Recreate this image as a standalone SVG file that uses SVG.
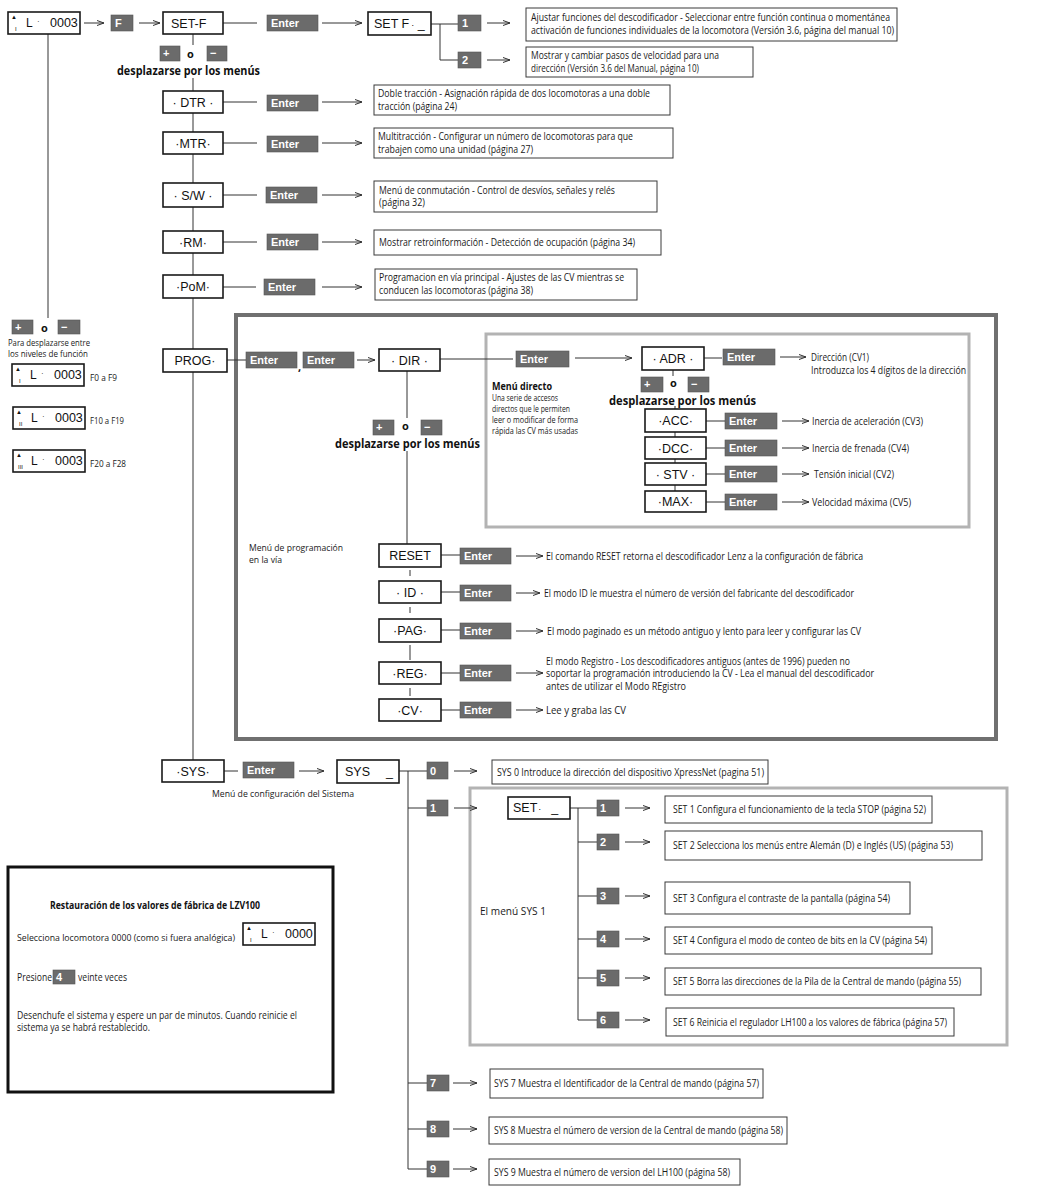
<svg xmlns="http://www.w3.org/2000/svg" width="1046" height="1200" viewBox="0 0 1046 1200">
<defs>
<style>
.tb{fill:#fff;stroke:#3a3a3a;stroke-width:1}
.nb{fill:#fff;stroke:#1a1a1a;stroke-width:1.6}
.k{fill:#6b6b6b;stroke:#555;stroke-width:0.6}
.kt{font-family:"Liberation Sans",Arial,sans-serif;font-weight:bold;font-size:11px;fill:#fff}
.d{font-family:"Open Sans","Noto Sans",sans-serif;font-size:10px;fill:#1a1a1a}
.s{font-family:"Open Sans","Noto Sans",sans-serif;font-size:8.5px;fill:#1a1a1a}
.n{font-family:"Liberation Sans",Arial,sans-serif;font-size:12.5px;fill:#111;text-anchor:middle}
.nl{font-family:"Liberation Sans",Arial,sans-serif;font-size:12.5px;fill:#111}
.b{font-family:"Open Sans","Noto Sans",sans-serif;font-weight:bold;font-size:12.5px;fill:#111}
.bs{font-family:"Open Sans","Noto Sans",sans-serif;font-weight:bold;font-size:10px;fill:#111}
.o{font-family:"Open Sans","Noto Sans",sans-serif;font-weight:bold;font-size:11px;fill:#111}
.ln{stroke:#333;stroke-width:1;fill:none}
.ar{stroke:#333;stroke-width:1;fill:none;marker-end:url(#ah)}
.dt{font-family:"Liberation Sans",Arial,sans-serif;fill:#111}
.frame1{fill:none;stroke:#707070;stroke-width:4}
.frame2{fill:none;stroke:#b3b3b3;stroke-width:3}
.frame3{fill:none;stroke:#111;stroke-width:3}
</style>
<marker id="ah" viewBox="0 0 8 8" refX="7.5" refY="4" markerWidth="8" markerHeight="8" markerUnits="userSpaceOnUse" orient="auto">
<path d="M0.5,1.5 L7.5,4 L0.5,6.5" fill="none" stroke="#333" stroke-width="1"/>
</marker>
</defs>
<rect width="1046" height="1200" fill="#fff"/>

<g id="frames">
<rect class="frame1" x="236" y="315" width="760" height="424"/>
<rect class="frame2" x="486" y="334" width="483" height="193"/>
<rect class="frame2" x="470" y="788" width="537" height="257"/>
<rect class="frame3" x="8" y="867" width="325" height="225"/>
</g>

<g id="connectors">
<path class="ar" d="M84,23 H104"/>
<path class="ar" d="M139,23 H160"/>
<path class="ln" d="M223,23 H257"/>
<path class="ar" d="M322,23 H362"/>
<path class="ln" d="M431,24 H458 M440,24 V60 H458"/>
<path class="ar" d="M487,23 H510"/>
<path class="ar" d="M487,60 H510"/>
<path class="ln" d="M193,34 V45 M193,78 V91 M193,113 V132 M193,154 V183 M193,207 V231 M193,253 V275 M193,298 V349 M193,372 V760"/>
<path class="ln" d="M223,102 H257"/><path class="ar" d="M322,102 H362"/>
<path class="ln" d="M223,143 H257"/><path class="ar" d="M322,143 H362"/>
<path class="ln" d="M223,195 H257"/><path class="ar" d="M322,195 H362"/>
<path class="ln" d="M223,242 H257"/><path class="ar" d="M322,242 H362"/>
<path class="ln" d="M223,287 H256"/><path class="ar" d="M322,287 H362"/>
<path class="ln" d="M48,34 V318"/>
<path class="ln" d="M227,360 H246"/>
<path class="ar" d="M357,360 H375"/>
<path class="ln" d="M440,359 H513"/><path class="ar" d="M575,358 H632"/>
<path class="ln" d="M704,358 H722"/><path class="ar" d="M780,357 H806"/>
<path class="ln" d="M673,370 V376 M675,406 V409 M675,432 V437 M675,459 V463 M675,485 V491"/>
<path class="ln" d="M706,421 H725"/><path class="ar" d="M782,421 H809"/>
<path class="ln" d="M706,448 H725"/><path class="ar" d="M782,448 H809"/>
<path class="ln" d="M706,474 H725"/><path class="ar" d="M782,474 H809"/>
<path class="ln" d="M706,502 H725"/><path class="ar" d="M782,502 H809"/>
<path class="ln" d="M407,371 V418 M407,451 V544"/>
<path class="ln" d="M441,555 H460"/><path class="ar" d="M516,556 H543"/>
<path class="ln" d="M410,570 V576 M410,607 V613 M410,645 V660 M410,688 V696"/>
<path class="ln" d="M441,592 H460"/><path class="ar" d="M516,593 H540"/>
<path class="ln" d="M441,630 H460"/><path class="ar" d="M516,631 H543"/>
<path class="ln" d="M441,673 H460"/><path class="ar" d="M516,673 H543"/>
<path class="ln" d="M441,710 H460"/><path class="ar" d="M516,710 H543"/>
<path class="ln" d="M224,771 H238"/><path class="ar" d="M299,771 H324"/>
<path class="ln" d="M399,771 H427 M408,771 V1169 H427"/>
<path class="ar" d="M454,771 H477"/>
<path class="ln" d="M408,808 H427"/><path class="ar" d="M454,808 H477"/>
<path class="ln" d="M570,808 H597 M578,808 V1020 H597 M578,842 H597 M578,896 H597 M578,939 H597 M578,978 H597"/>
<path class="ar" d="M625,808 H650"/>
<path class="ar" d="M625,842 H650"/>
<path class="ar" d="M625,896 H650"/>
<path class="ar" d="M625,939 H650"/>
<path class="ar" d="M625,978 H650"/>
<path class="ar" d="M625,1020 H650"/>
<path class="ln" d="M408,1083 H427"/><path class="ar" d="M453,1083 H477"/>
<path class="ln" d="M408,1129 H427"/><path class="ar" d="M453,1129 H477"/>
<path class="ar" d="M453,1169 H477"/>
</g>

<g id="display-main" transform="translate(8,12)">
<rect class="nb" width="72" height="22"/>
<text class="dt" x="3" y="7" font-size="6">▲</text><text class="dt" x="7" y="19" font-size="6">I</text>
<text class="dt" x="18" y="14.5" font-size="12">L</text><text class="dt" x="29" y="12" font-size="8">·</text>
<text class="dt" x="42" y="14.5" font-size="12.5">0003</text>
</g>
<g id="display-f0" transform="translate(12,364)">
<rect class="nb" width="72" height="22"/>
<text class="dt" x="3" y="7" font-size="6">▲</text><text class="dt" x="7" y="19" font-size="6">I</text>
<text class="dt" x="18" y="14.5" font-size="12">L</text><text class="dt" x="29" y="12" font-size="8">·</text>
<text class="dt" x="42" y="14.5" font-size="12.5">0003</text>
</g>
<text class="s" x="90" y="381" textLength="27" lengthAdjust="spacingAndGlyphs">F0 a F9</text>
<g id="display-f10" transform="translate(13,407)">
<rect class="nb" width="72" height="22"/>
<text class="dt" x="3" y="7" font-size="6">▲</text><text class="dt" x="6" y="19" font-size="6">II</text>
<text class="dt" x="18" y="14.5" font-size="12">L</text><text class="dt" x="29" y="12" font-size="8">·</text>
<text class="dt" x="42" y="14.5" font-size="12.5">0003</text>
</g>
<text class="s" x="90" y="424" textLength="34" lengthAdjust="spacingAndGlyphs">F10 a F19</text>
<g id="display-f20" transform="translate(13,450)">
<rect class="nb" width="72" height="22"/>
<text class="dt" x="3" y="7" font-size="6">▲</text><text class="dt" x="5" y="19" font-size="6">III</text>
<text class="dt" x="18" y="14.5" font-size="12">L</text><text class="dt" x="29" y="12" font-size="8">·</text>
<text class="dt" x="42" y="14.5" font-size="12.5">0003</text>
</g>
<text class="s" x="90" y="467" textLength="36" lengthAdjust="spacingAndGlyphs">F20 a F28</text>

<g id="left-scroll">
<rect class="k" x="12" y="320" width="21" height="14"/><text class="kt" x="15" y="331">+</text>
<text class="o" x="41" y="332">o</text>
<rect class="k" x="58" y="320" width="22" height="14"/><text class="kt" x="61" y="331">−</text>
<text class="s" x="8" y="346" textLength="82" lengthAdjust="spacingAndGlyphs">Para desplazarse entre</text>
<text class="s" x="8" y="357" textLength="80" lengthAdjust="spacingAndGlyphs">los niveles de función</text>
</g>

<g id="key-f"><rect class="k" x="111" y="15" width="22" height="16"/><text class="kt" x="115" y="27">F</text></g>
<g id="set-f"><rect class="nb" x="163" y="12" width="60" height="22"/><text class="nl" x="171" y="27.5">SET-F</text></g>
<g id="enter-setf"><rect class="k" x="267" y="15" width="51" height="16"/><text class="kt" x="271" y="27">Enter</text></g>
<g id="setf"><rect class="nb" x="368" y="12" width="63" height="23"/><text class="nl" x="374" y="28">SET F<tspan font-size="9" dx="2">·</tspan> _</text></g>
<g id="key-f1"><rect class="k" x="458" y="15" width="23" height="16"/><text class="kt" x="462" y="27">1</text></g>
<g id="key-f2"><rect class="k" x="458" y="52" width="23" height="16"/><text class="kt" x="462" y="64">2</text></g>
<g id="desc-f1"><rect class="tb" x="526" y="8" width="371" height="33"/>
<text class="d" x="531" y="21" textLength="359" lengthAdjust="spacingAndGlyphs">Ajustar funciones del descodificador - Seleccionar entre función continua o momentánea</text>
<text class="d" x="531" y="34" textLength="363" lengthAdjust="spacingAndGlyphs">activación de funciones individuales de la locomotora (Versión 3.6, página del manual 10)</text></g>
<g id="desc-f2"><rect class="tb" x="526" y="47" width="227" height="30"/>
<text class="d" x="531" y="59" textLength="188" lengthAdjust="spacingAndGlyphs">Mostrar y cambiar pasos de velocidad para una</text>
<text class="d" x="531" y="71.5" textLength="168" lengthAdjust="spacingAndGlyphs">dirección (Versión 3.6 del Manual, página 10)</text></g>

<g id="scroll-top">
<rect class="k" x="160" y="46" width="20" height="15"/><text class="kt" x="163" y="57">+</text>
<text class="o" x="187" y="58">o</text>
<rect class="k" x="207" y="46" width="20" height="15"/><text class="kt" x="210" y="57">−</text>
<text class="b" x="117" y="75" textLength="143" lengthAdjust="spacingAndGlyphs">desplazarse por los menús</text>
</g>

<g id="dtr"><rect class="nb" x="163" y="91" width="60" height="22"/><text class="n" x="193" y="106.5">· DTR ·</text></g>
<g id="enter-dtr"><rect class="k" x="267" y="95" width="51" height="16"/><text class="kt" x="271" y="107">Enter</text></g>
<g id="desc-dtr"><rect class="tb" x="374" y="85" width="296" height="30"/>
<text class="d" x="378" y="97" textLength="272" lengthAdjust="spacingAndGlyphs">Doble tracción - Asignación rápida de dos locomotoras a una doble</text>
<text class="d" x="378" y="109.5" textLength="79" lengthAdjust="spacingAndGlyphs">tracción (página 24)</text></g>

<g id="mtr"><rect class="nb" x="163" y="132" width="60" height="22"/><text class="n" x="193" y="147.5">·MTR·</text></g>
<g id="enter-mtr"><rect class="k" x="267" y="136" width="51" height="16"/><text class="kt" x="271" y="148">Enter</text></g>
<g id="desc-mtr"><rect class="tb" x="374" y="128" width="299" height="30"/>
<text class="d" x="378" y="140" textLength="255" lengthAdjust="spacingAndGlyphs">Multitracción - Configurar un número de locomotoras para que</text>
<text class="d" x="378" y="152.5" textLength="155" lengthAdjust="spacingAndGlyphs">trabajen como una unidad (página 27)</text></g>

<g id="sw"><rect class="nb" x="163" y="183" width="60" height="24"/><text class="n" x="193" y="199.5">· S/W ·</text></g>
<g id="enter-sw"><rect class="k" x="266" y="187" width="51" height="16"/><text class="kt" x="270" y="199">Enter</text></g>
<g id="desc-sw"><rect class="tb" x="374" y="181" width="283" height="31"/>
<text class="d" x="379" y="193.5" textLength="236" lengthAdjust="spacingAndGlyphs">Menú de conmutación - Control de desvíos, señales y relés</text>
<text class="d" x="379" y="206" textLength="46" lengthAdjust="spacingAndGlyphs">(página 32)</text></g>

<g id="rm"><rect class="nb" x="163" y="231" width="60" height="22"/><text class="n" x="193" y="246.5">·RM·</text></g>
<g id="enter-rm"><rect class="k" x="267" y="234" width="51" height="16"/><text class="kt" x="271" y="246">Enter</text></g>
<g id="desc-rm"><rect class="tb" x="374" y="230" width="287" height="25"/>
<text class="d" x="379" y="246" textLength="256" lengthAdjust="spacingAndGlyphs">Mostrar retroinformación - Detección de ocupación (página 34)</text></g>

<g id="pom"><rect class="nb" x="163" y="275" width="60" height="23"/><text class="n" x="193" y="291">·PoM·</text></g>
<g id="enter-pom"><rect class="k" x="264" y="279" width="51" height="16"/><text class="kt" x="268" y="291">Enter</text></g>
<g id="desc-pom"><rect class="tb" x="375" y="269" width="262" height="31"/>
<text class="d" x="379" y="281" textLength="245" lengthAdjust="spacingAndGlyphs">Programacion en vía principal - Ajustes de las CV mientras se</text>
<text class="d" x="379" y="293.5" textLength="154" lengthAdjust="spacingAndGlyphs">conducen las locomotoras (página 38)</text></g>

<g id="prog"><rect class="nb" x="163" y="349" width="64" height="23"/><text class="n" x="195" y="365">PROG·</text></g>
<g id="enter-prog1"><rect class="k" x="246" y="352" width="51" height="16"/><text class="kt" x="250" y="364">Enter</text></g>
<text class="o" x="298" y="371">,</text>
<g id="enter-prog2"><rect class="k" x="303" y="352" width="51" height="16"/><text class="kt" x="307" y="364">Enter</text></g>
<g id="dir"><rect class="nb" x="379" y="349" width="61" height="22"/><text class="n" x="409.5" y="364.5">· DIR ·</text></g>

<g id="scroll-dir">
<rect class="k" x="373" y="420" width="21" height="15"/><text class="kt" x="376" y="431">+</text>
<text class="o" x="402" y="430">o</text>
<rect class="k" x="421" y="420" width="21" height="15"/><text class="kt" x="424" y="431">−</text>
<text class="b" x="335" y="448" textLength="145" lengthAdjust="spacingAndGlyphs">desplazarse por los menús</text>
</g>

<g id="menu-directo">
<text class="bs" x="492" y="390" textLength="60" lengthAdjust="spacingAndGlyphs">Menú directo</text>
<text class="s" x="492" y="401" textLength="66" lengthAdjust="spacingAndGlyphs">Una serie de accesos</text>
<text class="s" x="492" y="412" textLength="78" lengthAdjust="spacingAndGlyphs">directos que le permiten</text>
<text class="s" x="492" y="423" textLength="86" lengthAdjust="spacingAndGlyphs">leer o modificar de forma</text>
<text class="s" x="492" y="434" textLength="86" lengthAdjust="spacingAndGlyphs">rápida las CV más usadas</text>
</g>
<g id="enter-dir"><rect class="k" x="516" y="351" width="53" height="16"/><text class="kt" x="520" y="363">Enter</text></g>
<g id="adr"><rect class="nb" x="642" y="347" width="62" height="23"/><text class="n" x="673" y="363">· ADR ·</text></g>
<g id="enter-adr"><rect class="k" x="723" y="349" width="52" height="16"/><text class="kt" x="727" y="361">Enter</text></g>
<text class="d" x="811" y="361" textLength="58" lengthAdjust="spacingAndGlyphs">Dirección (CV1)</text>
<text class="d" x="811" y="374" textLength="155" lengthAdjust="spacingAndGlyphs">Introduzca los 4 dígitos de la dirección</text>
<g id="scroll-adr">
<rect class="k" x="641" y="377" width="22" height="15"/><text class="kt" x="644" y="388">+</text>
<text class="o" x="670" y="387">o</text>
<rect class="k" x="688" y="377" width="21" height="15"/><text class="kt" x="691" y="388">−</text>
<text class="b" x="609" y="405" textLength="147" lengthAdjust="spacingAndGlyphs">desplazarse por los menús</text>
</g>
<g id="acc"><rect class="nb" x="645" y="409" width="61" height="23"/><text class="n" x="675.5" y="425">·ACC·</text></g>
<g id="enter-acc"><rect class="k" x="725" y="413" width="52" height="16"/><text class="kt" x="729" y="425">Enter</text></g>
<text class="d" x="812" y="424.5" textLength="111" lengthAdjust="spacingAndGlyphs">Inercia de aceleración (CV3)</text>
<g id="dcc"><rect class="nb" x="645" y="437" width="61" height="22"/><text class="n" x="675.5" y="452.5">·DCC·</text></g>
<g id="enter-dcc"><rect class="k" x="725" y="440" width="52" height="16"/><text class="kt" x="729" y="452">Enter</text></g>
<text class="d" x="812" y="451.5" textLength="97" lengthAdjust="spacingAndGlyphs">Inercia de frenada (CV4)</text>
<g id="stv"><rect class="nb" x="645" y="463" width="61" height="22"/><text class="n" x="675.5" y="478.5">· STV ·</text></g>
<g id="enter-stv"><rect class="k" x="725" y="466" width="52" height="16"/><text class="kt" x="729" y="478">Enter</text></g>
<text class="d" x="814" y="477.5" textLength="80" lengthAdjust="spacingAndGlyphs">Tensión inicial (CV2)</text>
<g id="max"><rect class="nb" x="645" y="491" width="61" height="21"/><text class="n" x="675.5" y="506">·MAX·</text></g>
<g id="enter-max"><rect class="k" x="725" y="494" width="52" height="16"/><text class="kt" x="729" y="506">Enter</text></g>
<text class="d" x="812" y="505.5" textLength="99" lengthAdjust="spacingAndGlyphs">Velocidad máxima (CV5)</text>

<text class="s" x="249" y="551" textLength="94" lengthAdjust="spacingAndGlyphs">Menú de programación</text>
<text class="s" x="249" y="563" textLength="33" lengthAdjust="spacingAndGlyphs">en la vía</text>

<g id="reset"><rect class="nb" x="379" y="544" width="62" height="23"/><text class="n" x="410" y="560">RESET</text></g>
<g id="enter-reset"><rect class="k" x="460" y="548" width="51" height="16"/><text class="kt" x="464" y="560">Enter</text></g>
<text class="d" x="546" y="559.5" textLength="317" lengthAdjust="spacingAndGlyphs">El comando RESET retorna el descodificador Lenz a la configuración de fábrica</text>
<g id="id"><rect class="nb" x="379" y="581" width="62" height="22"/><text class="n" x="410" y="596.5">· ID ·</text></g>
<g id="enter-id"><rect class="k" x="460" y="585" width="51" height="16"/><text class="kt" x="464" y="597">Enter</text></g>
<text class="d" x="544" y="596.5" textLength="310" lengthAdjust="spacingAndGlyphs">El modo ID le muestra el número de versión del fabricante del descodificador</text>
<g id="pag"><rect class="nb" x="379" y="619" width="62" height="23"/><text class="n" x="410" y="635">·PAG·</text></g>
<g id="enter-pag"><rect class="k" x="460" y="623" width="51" height="16"/><text class="kt" x="464" y="635">Enter</text></g>
<text class="d" x="547" y="634.5" textLength="314" lengthAdjust="spacingAndGlyphs">El modo paginado es un método antiguo y lento para leer y configurar las CV</text>
<g id="reg"><rect class="nb" x="379" y="662" width="62" height="22"/><text class="n" x="410" y="677.5">·REG·</text></g>
<g id="enter-reg"><rect class="k" x="460" y="665" width="51" height="16"/><text class="kt" x="464" y="677">Enter</text></g>
<text class="d" x="546" y="664.5" textLength="304" lengthAdjust="spacingAndGlyphs">El modo Registro - Los descodificadores antiguos (antes de 1996) pueden no</text>
<text class="d" x="546" y="677" textLength="328" lengthAdjust="spacingAndGlyphs">soportar la programación introduciendo la CV - Lea el manual del descodificador</text>
<text class="d" x="546" y="689.5" textLength="140" lengthAdjust="spacingAndGlyphs">antes de utilizar el Modo REgistro</text>
<g id="cv"><rect class="nb" x="379" y="699" width="62" height="22"/><text class="n" x="410" y="714.5">·CV·</text></g>
<g id="enter-cv"><rect class="k" x="460" y="702" width="51" height="16"/><text class="kt" x="464" y="714">Enter</text></g>
<text class="d" x="546" y="713.5" textLength="80" lengthAdjust="spacingAndGlyphs">Lee y graba las CV</text>

<g id="sys"><rect class="nb" x="162" y="760" width="62" height="22"/><text class="n" x="193" y="775.5">·SYS·</text></g>
<g id="enter-sys"><rect class="k" x="243" y="762" width="51" height="16"/><text class="kt" x="247" y="774">Enter</text></g>
<text class="s" x="212" y="797" textLength="142" lengthAdjust="spacingAndGlyphs">Menú de configuración del Sistema</text>
<g id="sys-menu"><rect class="nb" x="337" y="760" width="62" height="23"/><text class="nl" x="345" y="776">SYS<tspan dx="16">_</tspan></text></g>
<g id="key-s0"><rect class="k" x="427" y="762" width="21" height="17"/><text class="kt" x="430" y="775">0</text></g>
<g id="desc-s0"><rect class="tb" x="492" y="760" width="276" height="24"/>
<text class="d" x="497" y="775.5" textLength="267" lengthAdjust="spacingAndGlyphs">SYS 0 Introduce la dirección del dispositivo XpressNet (pagina 51)</text></g>
<g id="key-s1"><rect class="k" x="427" y="800" width="21" height="16"/><text class="kt" x="430" y="812">1</text></g>

<g id="set-menu"><rect class="nb" x="508" y="797" width="62" height="22"/><text class="nl" x="513" y="812">SET<tspan font-size="9" dx="1">·</tspan><tspan dx="10">_</tspan></text></g>
<text class="d" x="480" y="915" textLength="66" lengthAdjust="spacingAndGlyphs">El menú SYS 1</text>
<g id="key-set1"><rect class="k" x="597" y="800" width="22" height="16"/><text class="kt" x="600" y="812">1</text></g>
<g id="desc-set1"><rect class="tb" x="665" y="796" width="267" height="27"/><text class="d" x="673" y="813" textLength="253" lengthAdjust="spacingAndGlyphs">SET 1 Configura el funcionamiento de la tecla STOP (página 52)</text></g>
<g id="key-set2"><rect class="k" x="597" y="834" width="22" height="16"/><text class="kt" x="600" y="846">2</text></g>
<g id="desc-set2"><rect class="tb" x="665" y="831" width="317" height="29"/><text class="d" x="673" y="849" textLength="280" lengthAdjust="spacingAndGlyphs">SET 2 Selecciona los menús entre Alemán (D) e Inglés (US) (página 53)</text></g>
<g id="key-set3"><rect class="k" x="597" y="888" width="22" height="16"/><text class="kt" x="600" y="900">3</text></g>
<g id="desc-set3"><rect class="tb" x="665" y="882" width="245" height="32"/><text class="d" x="673" y="901.5" textLength="217" lengthAdjust="spacingAndGlyphs">SET 3 Configura el contraste de la pantalla (página 54)</text></g>
<g id="key-set4"><rect class="k" x="597" y="931" width="22" height="16"/><text class="kt" x="600" y="943">4</text></g>
<g id="desc-set4"><rect class="tb" x="665" y="927" width="267" height="27"/><text class="d" x="673" y="944" textLength="254" lengthAdjust="spacingAndGlyphs">SET 4 Configura el modo de conteo de bits en la CV (página 54)</text></g>
<g id="key-set5"><rect class="k" x="597" y="970" width="22" height="16"/><text class="kt" x="600" y="982">5</text></g>
<g id="desc-set5"><rect class="tb" x="665" y="968" width="316" height="27"/><text class="d" x="673" y="985" textLength="288" lengthAdjust="spacingAndGlyphs">SET 5 Borra las direcciones de la Pila de la Central de mando (página 55)</text></g>
<g id="key-set6"><rect class="k" x="597" y="1012" width="22" height="16"/><text class="kt" x="600" y="1024">6</text></g>
<g id="desc-set6"><rect class="tb" x="666" y="1008" width="288" height="28"/><text class="d" x="673" y="1025.5" textLength="274" lengthAdjust="spacingAndGlyphs">SET 6 Reinicia el regulador LH100 a los valores de fábrica (página 57)</text></g>

<g id="key-s7"><rect class="k" x="427" y="1075" width="22" height="16"/><text class="kt" x="430" y="1087">7</text></g>
<g id="desc-s7"><rect class="tb" x="490" y="1069" width="273" height="29"/><text class="d" x="494" y="1087" textLength="265" lengthAdjust="spacingAndGlyphs">SYS 7 Muestra el Identificador de la Central de mando (página 57)</text></g>
<g id="key-s8"><rect class="k" x="427" y="1121" width="22" height="16"/><text class="kt" x="430" y="1133">8</text></g>
<g id="desc-s8"><rect class="tb" x="489" y="1117" width="298" height="27"/><text class="d" x="494" y="1134" textLength="289" lengthAdjust="spacingAndGlyphs">SYS 8 Muestra el número de version de la Central de mando (página 58)</text></g>
<g id="key-s9"><rect class="k" x="427" y="1161" width="22" height="16"/><text class="kt" x="430" y="1173">9</text></g>
<g id="desc-s9"><rect class="tb" x="489" y="1159" width="251" height="26"/><text class="d" x="494" y="1175.5" textLength="236" lengthAdjust="spacingAndGlyphs">SYS 9 Muestra el número de version del LH100 (página 58)</text></g>

<g id="restore">
<text class="bs" x="50" y="909" textLength="210" lengthAdjust="spacingAndGlyphs">Restauración de los valores de fábrica de LZV100</text>
<text class="d" x="17" y="941" style="font-size:8.5px" textLength="218" lengthAdjust="spacingAndGlyphs">Selecciona locomotora 0000 (como si fuera analógica)</text>
<g id="display-0000" transform="translate(243,923)">
<rect class="nb" width="72" height="22"/>
<text class="dt" x="3" y="7" font-size="6">▲</text><text class="dt" x="7" y="19" font-size="6">I</text>
<text class="dt" x="18" y="14.5" font-size="12">L</text><text class="dt" x="29" y="12" font-size="8">·</text>
<text class="dt" x="42" y="14.5" font-size="12.5">0000</text>
</g>
<text class="d" x="17" y="981" textLength="35" lengthAdjust="spacingAndGlyphs">Presione</text>
<rect class="k" x="53" y="970" width="22" height="14"/><text class="kt" x="56" y="981">4</text>
<text class="d" x="78" y="981" textLength="49" lengthAdjust="spacingAndGlyphs">veinte veces</text>
<text class="d" x="17" y="1019" textLength="280" lengthAdjust="spacingAndGlyphs">Desenchufe el sistema y espere un par de minutos. Cuando reinicie el</text>
<text class="d" x="17" y="1031" textLength="133" lengthAdjust="spacingAndGlyphs">sistema ya se habrá restablecido.</text>
</g>
</svg>
